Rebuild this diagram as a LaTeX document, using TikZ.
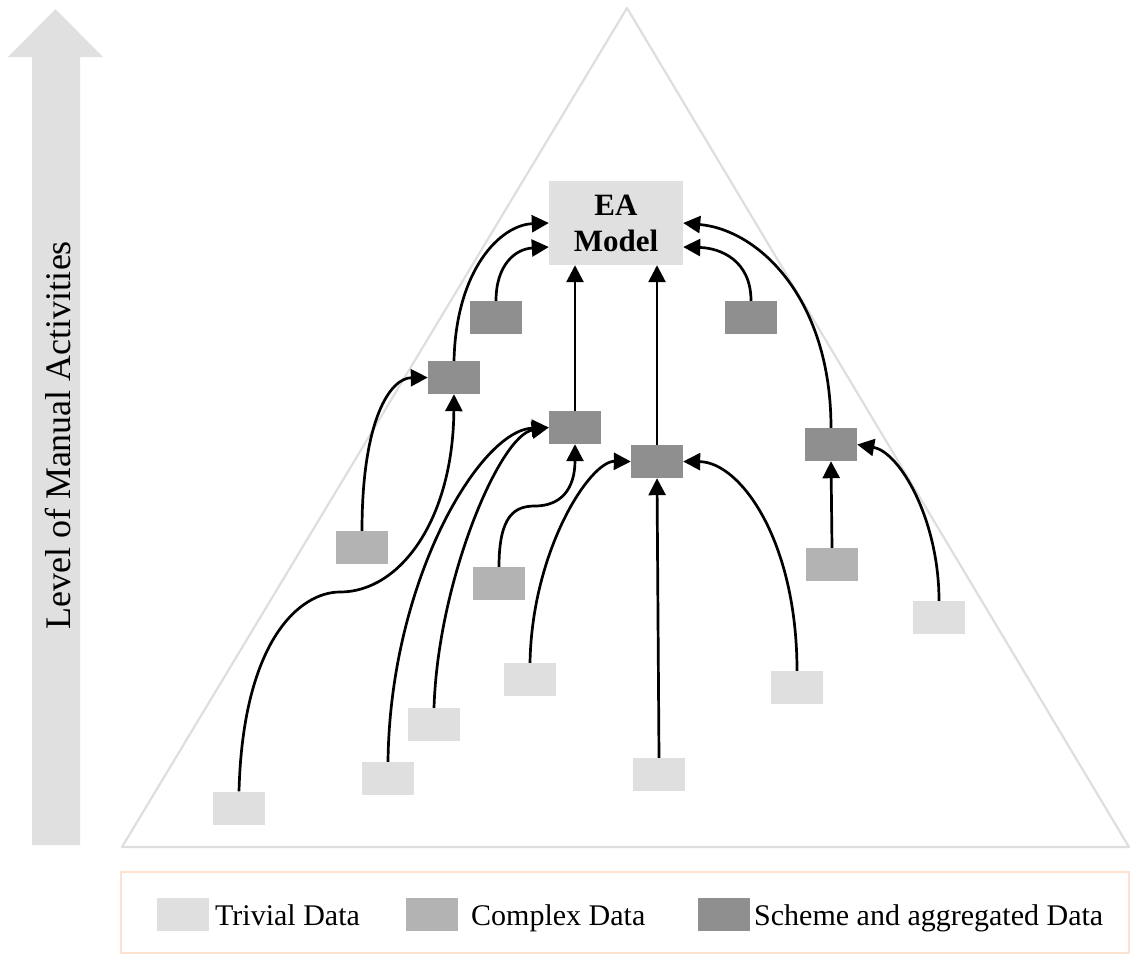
\documentclass[tikz,border=0pt]{standalone}
\usepackage{fontspec}
\setmainfont{Liberation Serif}
\usetikzlibrary{arrows.meta,calc}
\definecolor{trivialgray}{HTML}{DFDFDF}
\definecolor{complexgray}{HTML}{B3B3B3}
\definecolor{schemegray}{HTML}{8F8F8F}
\definecolor{eagray}{HTML}{E0E0E0}
\definecolor{edgegray}{HTML}{DEDEDE}
\definecolor{legendedge}{HTML}{FDE3CF}
\begin{document}
\begin{tikzpicture}[x=1pt,y=-1pt,
  databox/.style={rectangle,inner sep=0pt,minimum width=52pt,minimum height=33pt},
  trivial/.style={databox,fill=trivialgray},
  complex/.style={databox,fill=complexgray},
  scheme/.style={databox,fill=schemegray},
  flow/.style={line width=2.7pt,-{Triangle[length=17pt,width=17pt]}},
  legendtext/.style={anchor=base west,inner sep=0pt,font=\fontsize{30}{36}\selectfont}]
\useasboundingbox (0,0) rectangle (1131,954);

% upward arrow on the left with its caption
\fill[eagray] (32,845) -- (32,57) -- (8,57) -- (55.5,9) -- (103,57) -- (80,57) -- (80,845) -- cycle;
\node[rotate=90,anchor=base,inner sep=0pt,font=\fontsize{36}{40}\selectfont] (level) at (70,435.5) {Level of Manual Activities};

% pyramid outline
\draw[edgegray,line width=2.2pt,line join=round] (627,8) -- (122,847) -- (1129,847) -- cycle;

% top model
\node[fill=eagray,minimum width=134pt,minimum height=84pt,inner sep=0pt,align=center,
      font=\fontsize{31}{36}\selectfont\bfseries] (EA) at (616,223) {EA\\Model};

% scheme and aggregated data
\node[scheme] (A) at (496,317.5) {};
\node[scheme] (B) at (751,317.5) {};
\node[scheme] (C) at (454,377.5) {};
\node[scheme] (D) at (575,427.5) {};
\node[scheme] (E) at (657,461.5) {};
\node[scheme] (F) at (831,444.5) {};

% complex data
\node[complex] (G) at (362,547.5) {};
\node[complex] (H) at (499,583.5) {};
\node[complex] (I) at (832,564.5) {};

% trivial data
\node[trivial] (J) at (939,617.5) {};
\node[trivial] (K) at (530,679.5) {};
\node[trivial] (L) at (797,687.5) {};
\node[trivial] (M) at (434,724.5) {};
\node[trivial] (N) at (388,778.5) {};
\node[trivial] (O) at (659,774.5) {};
\node[trivial] (P) at (239,808) {};

% connectors into the model
\draw[flow] (C.north) .. controls (456,270) and (500,225) .. (EA.west);
\draw[flow] (A.north) .. controls (496,265) and (515,249) .. ($(EA.west)+(0,24)$);
\draw[flow] (D.north) -- (D.north |- EA.south);
\draw[flow] (E.north) -- (E.north |- EA.south);
\draw[flow] (F.north) .. controls (831,300) and (760,230) .. (EA.east);
\draw[flow] (B.north) .. controls (751,260) and (720,248) .. ($(EA.east)+(0,24)$);

% connectors into the aggregated data
\draw[flow] (P.north) .. controls (243,640) and (300,592) .. (340,592)
            .. controls (400,592) and (453,520) .. (C.south);
\draw[flow] (G.north) .. controls (362,420) and (390,378) .. (C.west);
\draw[flow] (N.north) .. controls (390,580) and (480,430) .. (D.west);
\draw[flow] (M.north) .. controls (438,580) and (500,435) .. (D.west);
\draw[flow] (H.north) .. controls (499,515) and (515,506) .. (535,506)
            .. controls (560,506) and (575,490) .. (D.south);
\draw[flow] (K.north) .. controls (532,550) and (590,461) .. (E.west);
\draw[flow] (O.north) -- (E.south);
\draw[flow] (L.north) .. controls (797,540) and (740,462) .. (E.east);
\draw[flow] (I.north) -- (F.south);
\draw[flow] (J.north) .. controls (939,520) and (900,452) .. (F.east);

% legend
\draw[legendedge,line width=2.5pt] (121,872) rectangle (1129,953);
\node[trivial] (lt) at (183,914) {};
\node[complex] (lc) at (431.5,914) {};
\node[scheme] (ls) at (724,914) {};
\node[legendtext] (ltt) at (215,925) {Trivial Data};
\node[legendtext] (lct) at (471,925) {Complex Data};
\node[legendtext] (lst) at (754,925) {Scheme and aggregated Data};
\end{tikzpicture}
\end{document}
